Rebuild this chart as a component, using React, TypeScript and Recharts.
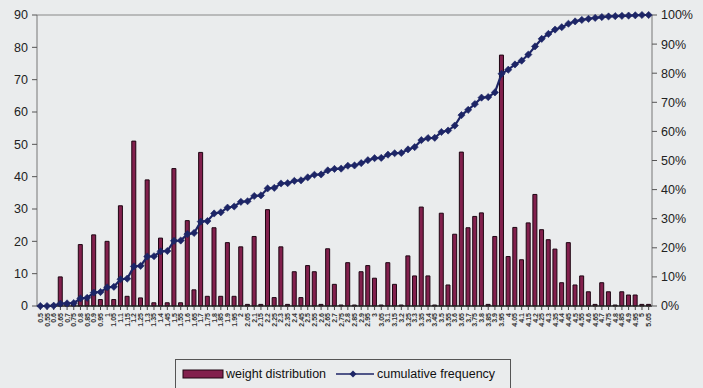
import React from 'react';
import { ComposedChart, Bar, Line, XAxis, YAxis, ReferenceLine } from 'recharts';

const weightLabels = [
  '0.5', '0.55', '0.6', '0.65', '0.7', '0.75', '0.8', '0.85', '0.9', '0.95',
  '1', '1.05', '1.1', '1.15', '1.2', '1.25', '1.3', '1.35', '1.4', '1.45',
  '1.5', '1.55', '1.6', '1.65', '1.7', '1.75', '1.8', '1.85', '1.9', '1.95',
  '2', '2.05', '2.1', '2.15', '2.2', '2.25', '2.3', '2.35', '2.4', '2.45',
  '2.5', '2.55', '2.6', '2.65', '2.7', '2.75', '2.8', '2.85', '2.9', '2.95',
  '3', '3.05', '3.1', '3.15', '3.2', '3.25', '3.3', '3.35', '3.4', '3.45',
  '3.5', '3.55', '3.6', '3.65', '3.7', '3.75', '3.8', '3.85', '3.9', '3.95',
  '4', '4.05', '4.1', '4.15', '4.2', '4.25', '4.3', '4.35', '4.4', '4.45',
  '4.5', '4.55', '4.6', '4.65', '4.7', '4.75', '4.8', '4.85', '4.9', '4.95',
  '5', '5.05',
];

const weightDistribution = [
  0, 0, 0.5, 9, 1, 1, 19, 2, 22, 2,
  20, 2, 31, 3, 51, 2.5, 39, 1, 21, 1,
  42.5, 1, 26.4, 5, 47.5, 3, 24.2, 3, 19.6, 3,
  18.3, 0.5, 21.5, 0.5, 29.8, 2.6, 18.3, 0.5, 10.6, 2.6,
  12.5, 10.6, 0.5, 17.7, 6.7, 0.3, 13.4, 0.3, 10.6, 12.5,
  8.6, 0.3, 13.4, 6.7, 0.3, 15.5, 9.3, 30.6, 9.3, 0.3,
  28.7, 6.5, 22.2, 47.6, 24.2, 27.7, 28.8, 0.5, 21.5, 77.6,
  15.3, 24.3, 14.3, 25.7, 34.5, 23.6, 20.5, 17.6, 7.2, 19.6,
  6.5, 9.3, 4.4, 0.5, 7.2, 4.4, 0.3, 4.4, 3.4, 3.4,
  0.5, 0.5,
];

const cumulativeFrequency = [
  0, 0, 0.1, 0.8, 0.9, 1.0, 2.6, 2.8, 4.6, 4.8,
  6.4, 6.6, 9.2, 9.4, 13.6, 13.8, 17.0, 17.1, 18.8, 18.9,
  22.4, 22.5, 24.7, 25.1, 29.0, 29.2, 31.8, 32.2, 33.8, 34.2,
  35.8, 36.0, 37.8, 38.0, 40.4, 40.6, 42.1, 42.2, 43.0, 43.2,
  44.2, 45.1, 45.2, 46.6, 47.1, 47.2, 48.2, 48.3, 49.1, 50.1,
  50.8, 50.9, 52.0, 52.5, 52.6, 53.8, 54.6, 57.0, 57.7, 57.8,
  59.8, 60.3, 62.0, 65.6, 67.4, 69.4, 71.6, 71.8, 73.4, 79.8,
  81.2, 83.0, 84.3, 86.4, 89.2, 91.8, 93.5, 95.0, 95.8, 97.0,
  97.8, 98.3, 98.7, 99.0, 99.3, 99.5, 99.6, 99.7, 99.8, 99.9,
  100, 100,
];

const leftTicks = [0, 10, 20, 30, 40, 50, 60, 70, 80, 90];
const rightTicks = [0, 10, 20, 30, 40, 50, 60, 70, 80, 90, 100];

const data = weightLabels.map((label, i) => ({
  label,
  weight: weightDistribution[i],
  cum: cumulativeFrequency[i],
}));

const BG = '#eaeced';
const BAR = '#82204d';
const BAR_EDGE = '#1e0512';
const LINE = '#1d2566';
const FONT = '"Liberation Sans", Arial, sans-serif';

const Diamond = (props: any) => {
  const { cx, cy, index } = props;
  if (cx == null || cy == null) return <g key={index} />;
  const r = 3.6;
  return (
    <polygon
      key={index}
      points={`${cx},${cy - r} ${cx + r},${cy} ${cx},${cy + r} ${cx - r},${cy}`}
      fill={LINE}
      stroke={LINE}
      strokeWidth={0.6}
    />
  );
};

const XTick = (props: any) => {
  const { x, y, payload } = props;
  return (
    <g>
      <text
        transform={`translate(${x + 2.5},${y + 1}) rotate(-90)`}
        textAnchor="end"
        fontSize={7}
        fontWeight="bold"
        fontFamily={FONT}
        fill="#333"
      >
        {payload.value}
      </text>
    </g>
  );
};

export default function App() {
  return (
    <div style={{ position: 'absolute', left: 0, top: 0, width: 703, height: 388, background: BG }}>
      <ComposedChart
        width={703}
        height={388}
        data={data}
        margin={{ top: 15, right: 0, bottom: 42, left: 0 }}
        barCategoryGap="18%"
      >
        <XAxis
          dataKey="label"
          xAxisId="x"
          interval={0}
          height={40}
          tick={<XTick />}
          tickSize={4}
          tickLine={{ stroke: '#444' }}
          axisLine={{ stroke: '#222', strokeWidth: 1.5 }}
        />
        <YAxis
          yAxisId="left"
          orientation="left"
          width={37}
          domain={[0, 90]}
          ticks={leftTicks}
          interval={0}
          tickSize={5}
          tickMargin={4}
          axisLine={{ stroke: '#777' }}
          tickLine={{ stroke: '#555' }}
          tick={{ fontSize: 12.5, fill: '#222', fontFamily: FONT }}
        />
        <YAxis
          yAxisId="right"
          orientation="right"
          width={51}
          domain={[0, 100]}
          ticks={rightTicks}
          interval={0}
          tickSize={5}
          tickMargin={4}
          tickFormatter={(v: number) => `${v}%`}
          axisLine={{ stroke: '#777' }}
          tickLine={{ stroke: '#555' }}
          tick={{ fontSize: 12.5, fill: '#222', fontFamily: FONT }}
        />
        <ReferenceLine yAxisId="left" xAxisId="x" y={90} stroke="#888" strokeWidth={1} />
        <Bar
          dataKey="weight"
          xAxisId="x"
          yAxisId="left"
          fill={BAR}
          stroke={BAR_EDGE}
          strokeWidth={1}
          isAnimationActive={false}
        />
        <Line
          dataKey="cum"
          xAxisId="x"
          yAxisId="right"
          type="linear"
          stroke={LINE}
          strokeWidth={2.2}
          dot={<Diamond />}
          activeDot={false}
          isAnimationActive={false}
        />
      </ComposedChart>
      <div
        style={{
          position: 'absolute',
          left: 175,
          top: 359,
          width: 336,
          height: 30,
          border: '1px solid #555',
          boxSizing: 'border-box',
          background: BG,
          fontFamily: FONT,
          fontSize: 12.5,
          color: '#111',
        }}
      >
        <svg width={336} height={28} style={{ position: 'absolute', left: 0, top: 0 }}>
          <rect x={7} y={10} width={40} height={8} fill={BAR} stroke={BAR_EDGE} strokeWidth={1} />
          <text x={50} y={18} fontSize={12.5} fontFamily={FONT} fill="#111">weight distribution</text>
          <line x1={160} x2={198} y1={14} y2={14} stroke={LINE} strokeWidth={1.5} />
          <polygon points="177,10.5 180.5,14 177,17.5 173.5,14" fill={LINE} />
          <text x={201} y={18} fontSize={12.5} fontFamily={FONT} fill="#111">cumulative frequency</text>
        </svg>
      </div>
    </div>
  );
}
